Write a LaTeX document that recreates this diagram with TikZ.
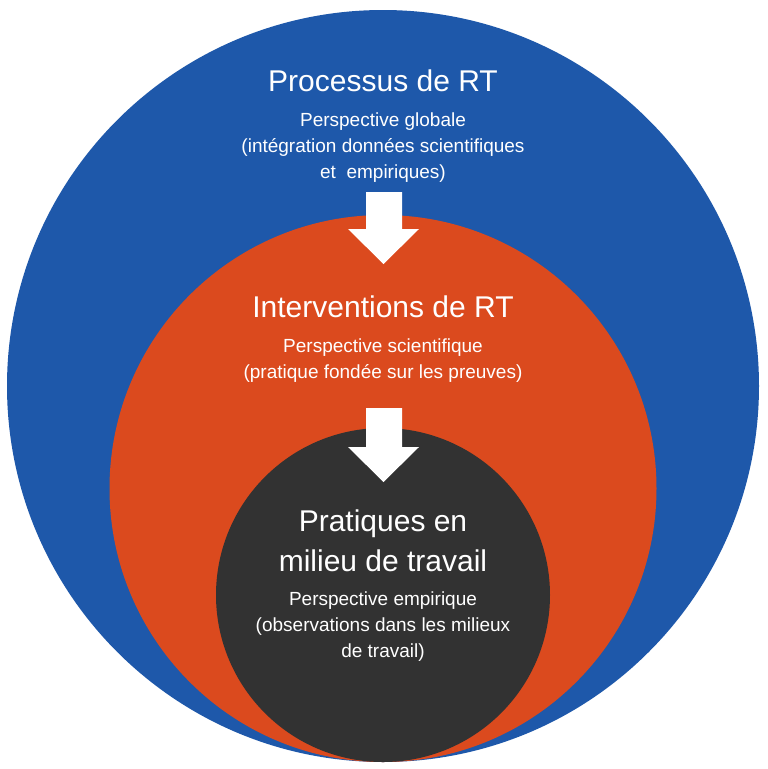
\documentclass[tikz,border=0pt]{standalone}
\usepackage{fontspec}
\setmainfont{Liberation Sans}
\definecolor{rtblue}{HTML}{1E58AA}
\definecolor{rtorange}{HTML}{DB4A1E}
\definecolor{rtdark}{HTML}{323232}
\tikzset{
  disque/.style={circle,inner sep=0pt,draw=none},
  titre/.style={text=white,font=\fontsize{30}{40}\selectfont,align=center,anchor=base},
  soustitre/.style={text=white,font=\fontsize{19}{26}\selectfont,align=center,anchor=base},
  fleche/.style={fill=white}
}
\begin{document}
\begin{tikzpicture}[x=1pt,y=-1pt]
\useasboundingbox (0,0) rectangle (768,769);

% les trois cercles
\node[disque,fill=rtblue,minimum size=752pt] (processus) at (383,386) {};
\node[disque,fill=rtorange,minimum size=547pt] (interventions) at (383,488.5) {};
\node[disque,fill=rtdark,minimum size=334pt] (pratiques) at (383,595) {};

% fleches
\fill[fleche] (366,192)--(402,192)--(402,229)--(419,229)--(383.5,264)--(348,229)--(366,229)--cycle;
\fill[fleche] (366,408)--(402,408)--(402,447)--(419,447)--(383.5,482)--(348,447)--(366,447)--cycle;

% textes (ancre base = derniere ligne)
\node[titre] (titreprocessus) at (383,91) {Processus de RT};
\node[soustitre] (texteprocessus) at (383,178) {Perspective globale\\(intégration données scientifiques\\et~ empiriques)};

\node[titre] (titreinterventions) at (383,317) {Interventions de RT};
\node[soustitre] (texteinterventions) at (383,378) {Perspective scientifique\\(pratique fondée sur les preuves)};

\node[titre] (titrepratiques) at (383,571) {Pratiques en\\milieu de travail};
\node[soustitre] (textepratiques) at (383,657) {Perspective empirique\\(observations dans les milieux\\de travail)};
\end{tikzpicture}
\end{document}
